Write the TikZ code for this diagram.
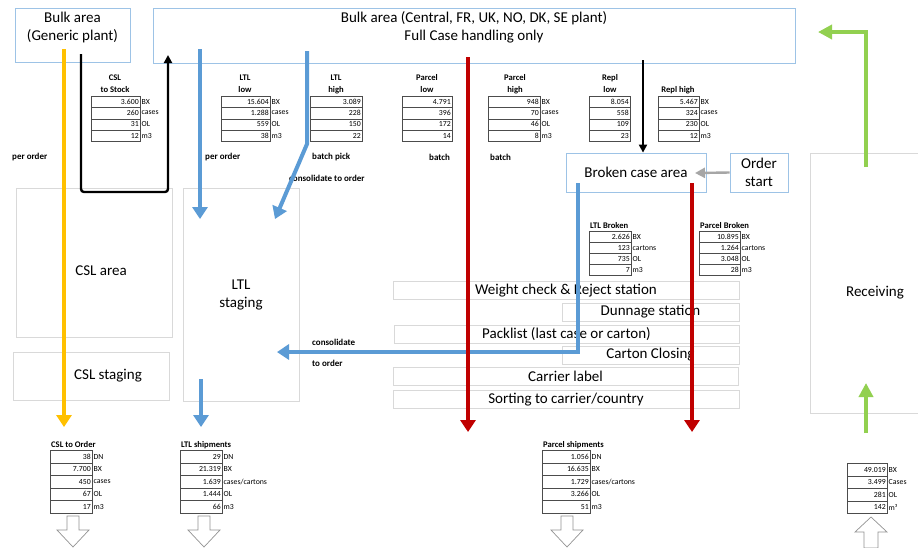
\documentclass[tikz,border=0pt]{standalone}
\usepackage{fontspec}
\setmainfont{Carlito}
\usetikzlibrary{arrows.meta,positioning,calc}
\definecolor{blue1}{RGB}{91,155,213}
\definecolor{red1}{RGB}{192,0,0}
\definecolor{yellow1}{RGB}{255,192,0}
\definecolor{green1}{RGB}{146,208,80}
\definecolor{frame1}{RGB}{157,195,230}
\definecolor{frame2}{RGB}{217,217,217}
\definecolor{gray1}{RGB}{166,166,166}
% one column of figures: name, left x, top y, cell width, row height, value/unit list
\newcommand{\datatab}[6]{%
  \pgfmathsetmacro\tabw{#4-3}%
  \foreach \v/\u [count=\i] in {#6}{%
    \node[cell, minimum width=#4, text width=\tabw pt, minimum height=#5, name=#1-\i] at (#2,{#3+#5*(\i-1)}) {\v};
    \node[unit, name=#1u-\i] at (#1-\i.east) {\u};
  }}

\begin{document}
\begin{tikzpicture}[x=1pt, y=-1pt,
    bulkbox/.style={draw=frame1, fill=white, line width=0.8pt, align=center, inner sep=0pt, font=\fontsize{15}{18}\selectfont},
    areabox/.style={draw=frame2, fill=white, line width=0.8pt, align=center, inner sep=0pt, font=\fontsize{15}{18}\selectfont},
    station/.style={draw=frame2, fill=white, line width=0.8pt, minimum height=18, inner sep=0pt, font=\fontsize{15}{16}\selectfont},
    bigtxt/.style={align=center, inner sep=0pt, font=\fontsize{15}{18}\selectfont},
    tabtitle/.style={align=center, inner sep=0pt, font=\bfseries\fontsize{8.6}{12}\selectfont},
    note/.style={anchor=west, inner sep=0pt, font=\bfseries\fontsize{9}{10}\selectfont},
    cell/.style={draw=black!70, line width=0.5pt, anchor=north west, align=right, inner xsep=1.5pt, inner ysep=0pt, font=\fontsize{7.8}{8}\selectfont},
    unit/.style={anchor=west, inner xsep=1pt, inner ysep=0pt, font=\fontsize{7.8}{8}\selectfont},
    ylwarrow/.style={draw=yellow1, line width=4pt, -{Triangle[width=15pt,length=12pt]}},
    bluearrow/.style={draw=blue1, line width=4pt, -{Triangle[width=15pt,length=12pt]}},
    redarrow/.style={draw=red1, line width=4pt, -{Triangle[width=15pt,length=12pt]}},
    grnarrow/.style={draw=green1, line width=4pt, -{Triangle[width=14pt,length=14pt]}},
    blkarrow/.style={draw=black, line width=2.4pt, -{Triangle[width=8pt,length=8pt]}},
    grayarrow/.style={draw=gray1, line width=2.4pt, -{Triangle[width=10pt,length=10pt]}},
    outarrow/.style={draw=gray!85, fill=white, line width=0.7pt, line join=miter}
]
    \fill[white] (0,0) rectangle (918,547);
    \useasboundingbox (0,0) rectangle (918,547);

    % bulk areas, order start
    \node[bulkbox, minimum width=115, minimum height=54, name=generic] at (72.5,35) {};
    \node[bigtxt, name=genericTxt] at (72.5,27) {Bulk area\\(Generic plant)};
    \node[bulkbox, minimum width=642, minimum height=55, name=bulk] at (474,35.5) {};
    \node[bigtxt, name=bulkTxt] at (474,27) {Bulk area (Central, FR, UK, NO, DK, SE plant)\\Full Case handling only};
    \node[bulkbox, minimum width=140, minimum height=39, name=broken] at (636,172.5) {Broken case area};
    \node[bulkbox, minimum width=58, minimum height=39, name=order] at (759,172.5) {Order\\start};

    % floor areas
    \node[areabox, minimum width=156, minimum height=149, name=cslArea] at (94,262.5) {};
    \node[bigtxt, name=cslAreaTxt] at (101,271) {CSL area};
    \node[areabox, minimum width=156, minimum height=48, name=cslStage] at (91,376) {};
    \node[bigtxt, name=cslStageTxt] at (108,376) {CSL staging};
    \node[areabox, minimum width=116, minimum height=213, name=ltlStage] at (241,294.5) {LTL\\staging};
    \node[areabox, minimum width=130, minimum height=260, name=recv] at (875,283) {};
    \node[bigtxt, name=recvTxt] at (875,293) {Receiving};

    % packing line
    \node[station, minimum width=346, name=weigh] at (566,290.5) {Weight check \& Reject station};
    \node[station, minimum width=177, name=dunnage] at (650.5,312) {Dunnage station};
    \node[station, minimum width=345, name=packlist] at (566.5,334) {Packlist (last case or carton)};
    \node[station, minimum width=177, name=closing] at (650.5,355) {Carton Closing};
    \node[station, minimum width=345, name=carrier] at (565.5,376) {Carrier label};
    \node[station, minimum width=346, name=sorting] at (566,399.5) {Sorting to carrier/country};

    % picking volumes
    \node[tabtitle, name=cslStockT] at (115,84) {CSL\\to Stock};
    \datatab{cslStock}{91}{96}{49}{11.25}{3.600/BX,260/cases,31/OL,12/m3}
    \node[tabtitle, name=ltlLowT] at (245,84) {LTL\\low};
    \datatab{ltlLow}{221}{96}{49}{11.25}{15.604/BX,1.288/cases,559/OL,38/m3}
    \node[tabtitle, name=ltlHighT] at (336,84) {LTL\\high};
    \datatab{ltlHigh}{310}{96}{52}{11.25}{3.089/{},228/{},150/{},22/{}}
    \node[tabtitle, name=parLowT] at (427,84) {Parcel\\low};
    \datatab{parLow}{402}{96}{50}{11.25}{4.791/{},396/{},172/{},14/{}}
    \node[tabtitle, name=parHighT] at (515,84) {Parcel\\high};
    \datatab{parHigh}{488}{96}{52}{11.25}{948/BX,70/cases,46/OL,8/m3}
    \node[tabtitle, name=replLowT] at (610,84) {Repl\\low};
    \datatab{replLow}{589}{96}{41}{11.25}{8.054/{},558/{},109/{},23/{}}
    \node[tabtitle, name=replHighT] at (678,90) {Repl high};
    \datatab{replHigh}{658}{96}{41}{11.25}{5.467/BX,324/cases,230/OL,12/m3}

    \node[tabtitle, anchor=west, name=ltlBrokenT] at (590,226) {LTL Broken};
    \datatab{ltlBroken}{589}{231}{42}{11}{2.626/BX,123/cartons,735/OL,7/m3}
    \node[tabtitle, anchor=west, name=parBrokenT] at (700,226) {Parcel Broken};
    \datatab{parBroken}{699}{231}{41}{11}{10.895/BX,1.264/cartons,3.048/OL,28/m3}

    % shipped / received volumes
    \node[tabtitle, anchor=west, name=cslOrderT] at (51,445) {CSL to Order};
    \datatab{cslOrder}{50}{450}{42}{12.6}{38/DN,7.700/BX,450/cases,67/OL,17/m3}
    \node[tabtitle, anchor=west, name=ltlShipT] at (181,445) {LTL shipments};
    \datatab{ltlShip}{180}{450}{42}{12.6}{29/DN,21.319/BX,1.639/{cases/cartons},1.444/OL,66/m3}
    \node[tabtitle, anchor=west, name=parShipT] at (543,445) {Parcel shipments};
    \datatab{parShip}{542}{450}{48}{12.6}{1.056/DN,16.635/BX,1.729/{cases/cartons},3.266/OL,51/m3}
    \datatab{recvTab}{847}{463}{40}{12.6}{49.019/BX,3.499/Cases,281/OL,142/m³}

    \node[note, name=perOrderA] at (12,157) {per order};
    \node[note, name=perOrderB] at (205,157) {per order};
    \node[note, name=batchPick] at (312,157) {batch pick};
    \node[note, name=consolA] at (289,178) {consolidate to order};
    \node[note, name=batchA] at (429,157) {batch};
    \node[note, name=batchB] at (490,157) {batch};
    \node[note, name=consolB] at (312,342) {consolidate};
    \node[note, name=consolC] at (312,363) {to order};

    % flows
    \coordinate (ylwTop) at (64,49);
    \coordinate (ylwEnd) at (64,427);
    \coordinate (loopA) at (81,54);
    \coordinate (loopLow) at (81,192);
    \coordinate (loopB) at (168,55);
    \coordinate (bl1Top) at (200,49);
    \coordinate (bl1End) at (200,219);
    \coordinate (bl2Top) at (307,51);
    \coordinate (bl2Bend) at (307,144);
    \coordinate (bl2End) at (275,219);
    \coordinate (bl3Top) at (578,183);
    \coordinate (bl3End) at (277,352);
    \coordinate (bl4Top) at (201,379);
    \coordinate (bl4End) at (201,427);
    \coordinate (red1Top) at (468,57);
    \coordinate (red1End) at (468,432);
    \coordinate (red2Top) at (692,183);
    \coordinate (red2End) at (692,432);
    \coordinate (blkTop) at (643,60);
    \coordinate (grayEnd) at (695,173);
    \coordinate (grnStart) at (866,167);
    \coordinate (grnEnd) at (818,32);
    \coordinate (grnBot) at (866,433);
    \coordinate (grnTip) at (866,383);

    \draw[ylwarrow] (ylwTop) -- (ylwEnd);
    \draw[blkarrow, rounded corners=3] (loopA) -- (loopLow) -- (loopLow -| loopB) -- (loopB);
    \draw[bluearrow] (bl1Top) -- (bl1End);
    \draw[bluearrow] (bl2Top) -- (bl2Bend) -- (bl2End);
    \draw[bluearrow] (bl3Top) -- (bl3Top |- bl3End) -- (bl3End);
    \draw[bluearrow] (bl4Top) -- (bl4End);
    \draw[redarrow] (red1Top) -- (red1End);
    \draw[redarrow] (red2Top) -- (red2End);
    \draw[blkarrow] (blkTop) -- (blkTop |- broken.north);
    \draw[grayarrow] (order.west) -- (grayEnd);
    \draw[grnarrow] (grnStart) -- (grnStart |- grnEnd) -- (grnEnd);
    \draw[grnarrow] (grnBot) -- (grnTip);

    % out / in
    \foreach \bx in {73,204,567}
        \draw[outarrow] (\bx-6,516) -- (\bx+6,516) -- (\bx+6,530) -- (\bx+16,530) -- (\bx,547) -- (\bx-16,530) -- (\bx-6,530) -- cycle;
    \draw[outarrow] (871,517) -- (887,532) -- (878,532) -- (878,548) -- (864,548) -- (864,532) -- (855,532) -- cycle;
\end{tikzpicture}
\end{document}
